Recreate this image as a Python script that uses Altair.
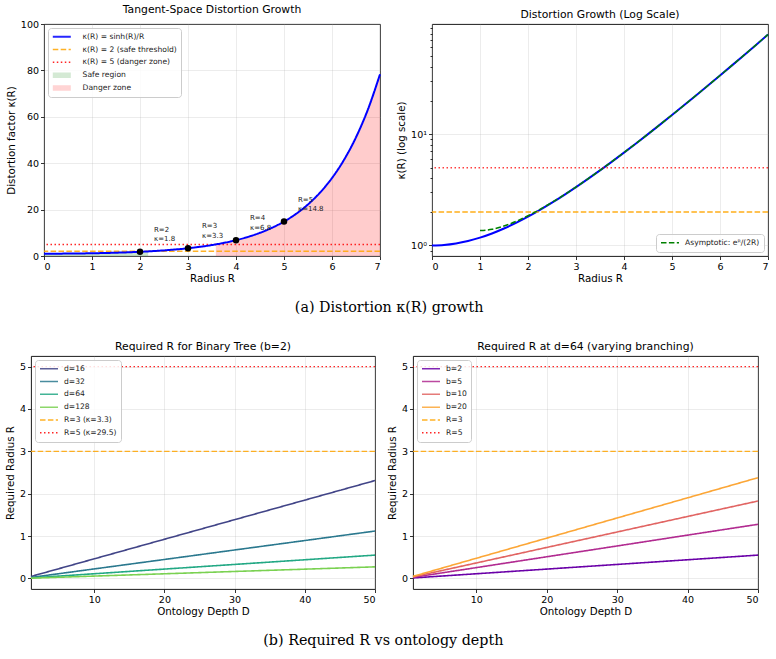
import altair as alt
import pandas as pd

FONT = "DejaVu Sans"

# kappa(R) = sinh(R)/R sampled along the radius
R_VALUES = [0.0, 0.25, 0.5, 0.75, 1.0, 1.25, 1.5, 1.75, 2.0, 2.17, 2.25, 2.5, 2.75,
            3.0, 3.25, 3.5, 3.58, 3.75, 4.0, 4.25, 4.5, 4.75, 5.0, 5.25, 5.5, 5.75,
            6.0, 6.25, 6.5, 6.75, 7.0]
KAPPA_VALUES = [1.0, 1.0104, 1.0422, 1.0964, 1.1752, 1.2815, 1.4195, 1.5945, 1.8134,
                1.9917, 2.0850, 2.4201, 2.8325, 3.3393, 3.9618, 4.7265, 5.0064, 5.6663,
                6.8225, 8.2460, 10.0007, 12.1659, 14.8406, 18.1487, 22.2443, 27.3207,
                33.6189, 41.4409, 51.1646, 63.2635, 78.3309]

# annotated radii
MARK_R = [2, 3, 4, 5]
MARK_KAPPA = [1.8134, 3.3393, 6.8225, 14.8406]

# asymptotic approximation e^R / (2R)
ASYM_R = [1.0, 1.25, 1.5, 1.75, 2.0, 2.25, 2.5, 2.75, 3.0, 3.5, 4.0, 4.5, 5.0, 5.5,
          6.0, 6.5, 7.0]
ASYM_VALUES = [1.3591, 1.3961, 1.4939, 1.6442, 1.8473, 2.1084, 2.4365, 2.8441, 3.3476,
               4.7308, 6.8248, 10.0019, 14.8413, 22.2447, 33.6191, 51.1647, 78.3309]

# required radius vs ontology depth
DEPTHS = [1, 10, 20, 30, 40, 50]
DIM_LABELS = ["d=16", "d=32", "d=64", "d=128"]
R_BY_DIM = [
    [0.0462, 0.462, 0.924, 1.386, 1.848, 2.310],
    [0.0224, 0.224, 0.447, 0.671, 0.894, 1.118],
    [0.0110, 0.110, 0.220, 0.330, 0.440, 0.550],
    [0.0055, 0.055, 0.109, 0.164, 0.218, 0.273],
]
BRANCH_LABELS = ["b=2", "b=5", "b=10", "b=20"]
R_BY_BRANCH = [
    [0.0110, 0.110, 0.220, 0.330, 0.440, 0.550],
    [0.0255, 0.255, 0.511, 0.766, 1.022, 1.277],
    [0.0365, 0.365, 0.731, 1.096, 1.462, 1.827],
    [0.0476, 0.476, 0.951, 1.427, 1.902, 2.378],
]

VIRIDIS = ["#414487", "#2a788e", "#22a884", "#7ad151"]
PLASMA = ["#6a00a8", "#b12a90", "#e16462", "#fca636"]
DASHED = [5.5, 2.4]
DOTTED = [1.5, 2.5]
SOLID = [1, 0]

LEGEND_BASE = dict(
    title=None, symbolType="stroke", symbolSize=324, labelFontSize=7.6,
    labelFont=FONT, labelColor="#222222", rowPadding=2.8, padding=4,
    strokeColor="#cccccc", fillColor="rgba(255,255,255,0.85)", cornerRadius=3,
    offset=4, clipHeight=9.5,
)

# ---------------- (a) left: linear scale ----------------
curve_df = pd.DataFrame({"R": R_VALUES, "kappa": KAPPA_VALUES})
curve_df["series"] = "κ(R) = sinh(R)/R"
TL_ORDER = ["κ(R) = sinh(R)/R", "κ(R) = 2 (safe threshold)",
            "κ(R) = 5 (danger zone)", "Safe region", "Danger zone"]
TL_COLORS = ["blue", "orange", "red", "rgba(0,128,0,0.2)", "rgba(255,0,0,0.2)"]
TL_DASH = [SOLID, DASHED, DOTTED, SOLID, SOLID]

tl_x = alt.X("R:Q", scale=alt.Scale(domain=[0, 7], nice=False),
             axis=alt.Axis(values=list(range(8)), format="d", title="Radius R"))
tl_y = alt.Y("kappa:Q", scale=alt.Scale(domain=[0, 100], nice=False),
             axis=alt.Axis(values=[0, 20, 40, 60, 80, 100], title="Distortion factor κ(R)"))
tl_legend = alt.Legend(
    orient="top-left", labelOffset=17, symbolOffset=6,
    symbolStrokeWidth={"expr": "datum.value === 'Safe region' || datum.value === 'Danger zone' ? 5.5 : "
                               "(datum.value === 'κ(R) = sinh(R)/R' ? 2 : 1.5)"},
    **LEGEND_BASE,
)
tl_color = alt.Color("series:N", scale=alt.Scale(domain=TL_ORDER, range=TL_COLORS), legend=tl_legend)
tl_dash = alt.StrokeDash("series:N", scale=alt.Scale(domain=TL_ORDER, range=TL_DASH), legend=tl_legend)

base_tl = alt.Chart(curve_df)
safe_area = base_tl.transform_filter("datum.kappa <= 2").transform_calculate(
    series="'Safe region'").mark_area(interpolate="monotone").encode(x=tl_x, y=tl_y, color=tl_color)
danger_area = base_tl.transform_filter("datum.kappa >= 5").transform_calculate(
    series="'Danger zone'").mark_area(interpolate="monotone").encode(x=tl_x, y=tl_y, color=tl_color)
thresh_df = pd.DataFrame({"kappa": [2, 5],
                          "series": ["κ(R) = 2 (safe threshold)", "κ(R) = 5 (danger zone)"]})
thresh_rules = alt.Chart(thresh_df).mark_rule(strokeWidth=1.5, opacity=0.85).encode(
    y=tl_y, color=tl_color, strokeDash=tl_dash)
curve_line = base_tl.mark_line(strokeWidth=2, interpolate="monotone").encode(
    x=tl_x, y=tl_y, color=tl_color, strokeDash=tl_dash)
marks_df = pd.DataFrame({"R": MARK_R, "kappa": MARK_KAPPA})
mark_pts = alt.Chart(marks_df).mark_circle(size=42, color="black", opacity=1).encode(x=tl_x, y=tl_y)
mark_txt = alt.Chart(marks_df).transform_calculate(
    label="'R=' + datum.R + '\\nκ=' + format(datum.kappa, '.1f')"
).mark_text(align="left", baseline="bottom", dx=14, dy=-19, fontSize=7, font=FONT,
            lineBreak="\n", lineHeight=9.5, color="#222222").encode(x=tl_x, y=tl_y, text="label:N")

top_left = alt.layer(safe_area, danger_area, thresh_rules, curve_line, mark_pts, mark_txt).properties(
    width=336, height=232, title="Tangent-Space Distortion Growth")

# ---------------- (a) right: log scale ----------------
log_scale = alt.Scale(type="log", domain=[0.804, 97.5], nice=False)
tr_x = alt.X("R:Q", scale=alt.Scale(domain=[0, 7], nice=False),
             axis=alt.Axis(values=list(range(8)), format="d", title="Radius R"))
tr_y = alt.Y("kappa:Q", scale=log_scale,
             axis=alt.Axis(values=[1, 10], title="κ(R) (log scale)", orient="left",
                           labelExpr="datum.value == 1 ? '10⁰' : '10¹'"))
asym_df = pd.DataFrame({"R": ASYM_R, "kappa": ASYM_VALUES})
asym_df["series"] = "Asymptotic: eᴿ/(2R)"

log_curve = alt.Chart(curve_df).mark_line(strokeWidth=2, color="blue", interpolate="monotone").encode(
    x=tr_x, y=tr_y)
asym_line = alt.Chart(asym_df).mark_line(strokeWidth=1.5, strokeDash=DASHED, interpolate="monotone").encode(
    x=tr_x, y=alt.Y("kappa:Q", scale=log_scale, axis=None),
    color=alt.Color("series:N", scale=alt.Scale(domain=["Asymptotic: eᴿ/(2R)"], range=["green"]),
                    legend=alt.Legend(orient="bottom-right", symbolDash=DASHED, labelOffset=5,
                                      symbolStrokeWidth=1.5, **LEGEND_BASE)))
minor_axis = alt.Axis(values=[0.9, 2, 3, 4, 5, 6, 7, 8, 9, 20, 30, 40, 50, 60, 70, 80, 90],
                      labels=False, grid=False, tickSize=2, title=None, orient="left")
safe_rule = alt.Chart(pd.DataFrame({"kappa": [2]})).mark_rule(
    strokeWidth=1.5, color="orange", strokeDash=DASHED, opacity=0.9).encode(
    y=alt.Y("kappa:Q", scale=log_scale, axis=minor_axis))
danger_rule = alt.Chart(pd.DataFrame({"kappa": [5]})).mark_rule(
    strokeWidth=1.5, color="red", strokeDash=DOTTED, opacity=0.75).encode(
    y=alt.Y("kappa:Q", scale=log_scale, axis=None))

top_right = alt.layer(log_curve, safe_rule, danger_rule, asym_line).resolve_axis(y="independent").properties(
    width=336, height=232, title="Distortion Growth (Log Scale)")

# ---------------- (b) panels ----------------
def depth_panel(labels, values, palette, ref_labels, title, width):
    rows = []
    for lab, vals in zip(labels, values):
        for d, r in zip(DEPTHS, vals):
            rows.append({"D": d, "Rreq": r, "series": lab})
    line_df = pd.DataFrame(rows)
    ref_df = pd.DataFrame({"Rreq": [3, 5], "series": ref_labels})
    order = labels + ref_labels
    leg = alt.Legend(orient="top-left", symbolStrokeWidth=1.5, labelOffset=5, **LEGEND_BASE)
    color = alt.Color("series:N", scale=alt.Scale(domain=order, range=palette + ["orange", "red"]), legend=leg)
    dash = alt.StrokeDash("series:N", scale=alt.Scale(domain=order, range=[SOLID] * 4 + [DASHED, DOTTED]),
                          legend=leg)
    x = alt.X("D:Q", scale=alt.Scale(domain=[1, 50], nice=False),
              axis=alt.Axis(values=[10, 20, 30, 40, 50], title="Ontology Depth D"))
    y = alt.Y("Rreq:Q", scale=alt.Scale(domain=[-0.25, 5.25], nice=False),
              axis=alt.Axis(values=[0, 1, 2, 3, 4, 5], title="Required Radius R"))
    lines = alt.Chart(line_df).mark_line(strokeWidth=1.6).encode(x=x, y=y, color=color, strokeDash=dash)
    refs = alt.Chart(ref_df).mark_rule(strokeWidth=1.3, opacity=0.85).encode(y=y, color=color, strokeDash=dash)
    return alt.layer(refs, lines).properties(width=width, height=233, title=title)

bottom_left = depth_panel(DIM_LABELS, R_BY_DIM, VIRIDIS, ["R=3 (κ=3.3)", "R=5 (κ=29.5)"],
                          "Required R for Binary Tree (b=2)", 344)
bottom_right = depth_panel(BRANCH_LABELS, R_BY_BRANCH, PLASMA, ["R=3", "R=5"],
                           "Required R at d=64 (varying branching)", 345)

caption = dict(orient="bottom", anchor="middle", font="DejaVu Serif", fontSize=14.3,
               fontWeight="normal", color="black", offset=17)

# a blank 1px cell lets the upper row sit further right than the lower one
spacer = alt.Chart(pd.DataFrame({"v": [0]})).mark_point(opacity=0).encode(
    x=alt.value(0), y=alt.value(0)).properties(
    width=1, height=1, view=alt.ViewBackground(stroke="transparent"))

panels_a = alt.hconcat(top_left, top_right, spacing=11).resolve_scale(
    color="independent", strokeDash="independent")
row_a = alt.hconcat(spacer, panels_a, spacing=-30).properties(
    title=alt.TitleParams("(a) Distortion κ(R) growth", **caption))
row_b = alt.hconcat(bottom_left, bottom_right, spacing=8).resolve_scale(
    color="independent", strokeDash="independent").properties(
    title=alt.TitleParams("(b) Required R vs ontology depth", **caption))

chart = alt.vconcat(row_a, row_b, spacing=24).configure(
    font=FONT, padding={"left": 5, "top": 3, "right": 2, "bottom": 2}
).configure_view(
    stroke="black", strokeWidth=0.9
).configure_axis(
    domain=False, grid=True, gridColor="#b0b0b0", gridOpacity=0.3, gridWidth=0.8,
    tickColor="black", tickSize=3.5, tickWidth=0.8, labelFontSize=9.5, labelColor="black",
    labelFont=FONT, titleFont=FONT, titleFontSize=10.3, titleColor="black",
    titleFontWeight="normal", labelPadding=2, titlePadding=4,
).configure_axisX(
    titlePadding=2
).configure_title(
    font=FONT, fontSize=10.8, fontWeight="normal", color="black", offset=4
)

chart.save("out.html", embed_options={"renderer": "svg", "actions": False})
